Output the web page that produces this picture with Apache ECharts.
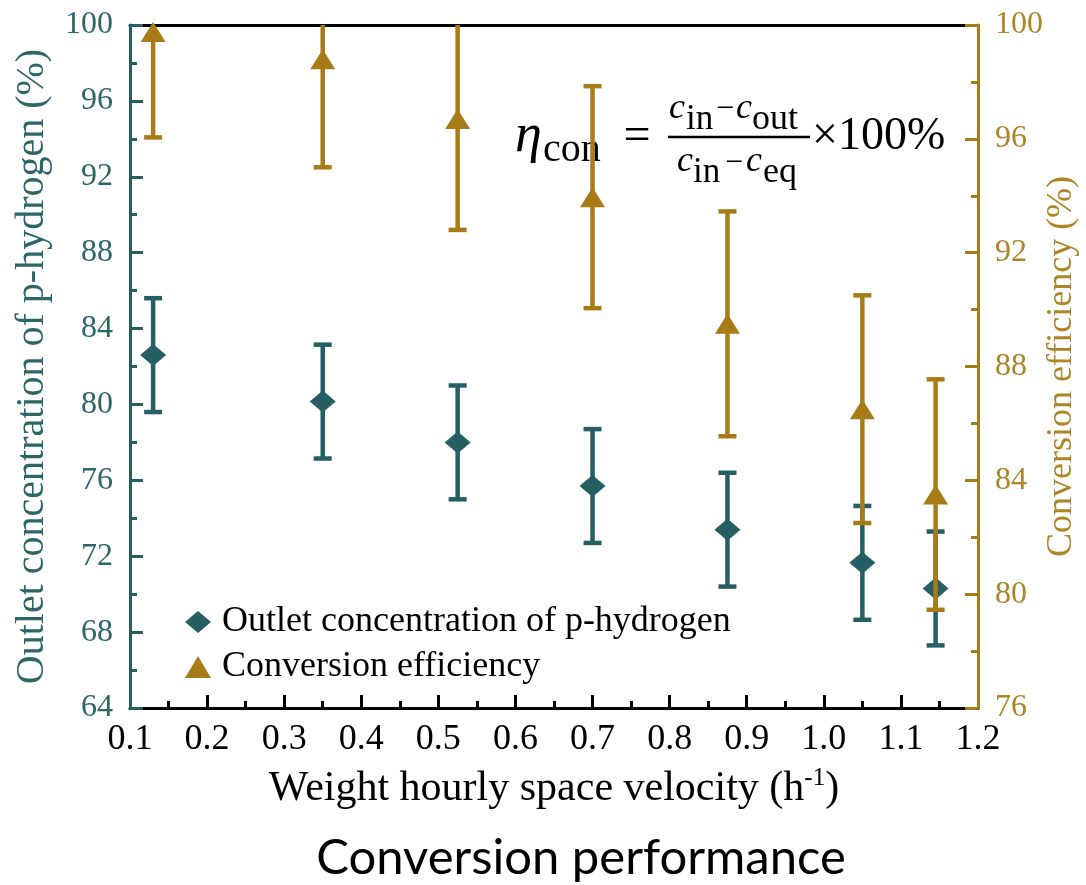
<!DOCTYPE html>
<html><head><meta charset="utf-8">
<script src="https://cdn.jsdelivr.net/npm/echarts@6/dist/echarts.min.js"></script>
<style>html,body{margin:0;padding:0;background:#fff}#chart{width:1086px;height:885px}</style>
</head><body><div id="chart"></div>
<script>
// ---- data ----
const wgsv = [0.13, 0.35, 0.525, 0.70, 0.875, 1.05, 1.145];
const outlet = [82.6, 80.15, 78.0, 75.7, 73.4, 71.65, 70.3];
const outletErr = [3.0, 3.0, 3.0, 3.0, 3.0, 3.0, 3.0];
const efficiency = [99.75, 98.8, 96.7, 93.95, 89.5, 86.5, 83.5];
const efficiencyErr = [3.7, 3.8, 3.9, 3.9, 3.95, 4.0, 4.05];
const xTicks = [0.1, 0.2, 0.3, 0.4, 0.5, 0.6, 0.7, 0.8, 0.9, 1.0, 1.1, 1.2];
const leftTicks = [64, 68, 72, 76, 80, 84, 88, 92, 96, 100];
const rightTicks = [76, 80, 84, 88, 92, 96, 100];
const seriesNames = ['Outlet concentration of p-hydrogen', 'Conversion efficiency'];

const TEAL = '#255F63', GOLD = '#A77B18';
const TEAL_T = '#2D6669', GOLD_T = '#AE8526';
const SERIF = '"Liberation Serif", "Times New Roman", serif';

const chart = echarts.init(document.getElementById('chart'), null, {renderer: 'canvas'});

function errorBarRender(color) {
  return function (params, api) {
    const x = api.value(0), lo = api.value(1), hi = api.value(2);
    const p1 = api.coord([x, hi]), p2 = api.coord([x, lo]);
    const cs = params.coordSys;
    const w = 4.5, cap = 18;
    const rects = [
      {x: p1[0] - w / 2, y: p1[1], width: w, height: p2[1] - p1[1]},
      {x: p1[0] - cap / 2, y: p1[1] - w / 2, width: cap, height: w},
      {x: p2[0] - cap / 2, y: p2[1] - w / 2, width: cap, height: w}
    ];
    const children = [];
    rects.forEach(r => {
      const c = echarts.graphic.clipRectByRect(r, {x: cs.x, y: cs.y, width: cs.width, height: cs.height});
      if (c && c.width > 0 && c.height > 0) children.push({type: 'rect', shape: c, style: {fill: color}});
    });
    return {type: 'group', children};
  };
}

const outletBars = wgsv.map((x, i) => [x, outlet[i] - outletErr[i], outlet[i] + outletErr[i]]);
const effBars = wgsv.map((x, i) => [x, efficiency[i] - efficiencyErr[i], efficiency[i] + efficiencyErr[i]]);

function txt(text, x, y, font, align, extra) {
  return Object.assign({type: 'text', x, y, silent: true,
    style: {text, font, fill: '#000', align: align || 'left', verticalAlign: 'middle'}}, extra || {});
}

const option = {
  animation: false,
  backgroundColor: '#fff',
  grid: {left: 130, right: 108, top: 25, bottom: 177, containLabel: false, outerBoundsMode: 'none'},
  legend: {
    data: seriesNames,
    orient: 'vertical', left: 180, top: 599,
    itemWidth: 26, itemHeight: 22, itemGap: 9,
    selectedMode: false,
    textStyle: {fontFamily: SERIF, fontSize: 36, color: '#000', lineHeight: 36, padding: [0, 0, 0, 6]}
  },
  xAxis: [{
    type: 'value', min: xTicks[0], max: xTicks[xTicks.length - 1], interval: 0.1,
    position: 'bottom', z: 0,
    axisLine: {show: true, onZero: false, lineStyle: {color: '#000', width: 3}},
    axisTick: {show: true, inside: true, length: 13, lineStyle: {color: '#000', width: 3}},
    minorTick: {show: true, splitNumber: 2, length: 7, lineStyle: {color: '#000', width: 3}},
    splitLine: {show: false},
    axisLabel: {color: '#000', fontFamily: SERIF, fontSize: 36, margin: 14,
      formatter: v => v.toFixed(1)},
    name: '{a|Weight hourly space velocity (h}{b|-1}{a|)}',
    nameLocation: 'middle', nameGap: 58,
    nameTextStyle: {rich: {
      a: {fontFamily: SERIF, fontSize: 42, color: '#000', lineHeight: 46},
      b: {fontFamily: SERIF, fontSize: 25, color: '#000', verticalAlign: 'top', lineHeight: 25}
    }}
  }, {
    type: 'value', min: xTicks[0], max: xTicks[xTicks.length - 1], interval: 0.1,
    position: 'top', z: 0,
    axisLine: {show: true, onZero: false, lineStyle: {color: '#000', width: 3}},
    axisTick: {show: false}, axisLabel: {show: false}, splitLine: {show: false}
  }],
  yAxis: [{
    type: 'value', min: leftTicks[0], max: leftTicks[leftTicks.length - 1], interval: 4,
    position: 'left', z: 1,
    axisLine: {show: true, onZero: false, lineStyle: {color: TEAL, width: 3}},
    axisTick: {show: true, inside: true, length: 13, lineStyle: {color: TEAL, width: 3}},
    minorTick: {show: true, splitNumber: 2, length: 7, lineStyle: {color: TEAL, width: 3}},
    splitLine: {show: false},
    axisLabel: {color: TEAL_T, fontFamily: SERIF, fontSize: 32, margin: 17},
    name: 'Outlet concentration of p-hydrogen (%)',
    nameLocation: 'middle', nameGap: 78, nameRotate: 90,
    nameTextStyle: {color: TEAL_T, fontFamily: SERIF, fontSize: 40}
  }, {
    type: 'value', min: rightTicks[0], max: rightTicks[rightTicks.length - 1], interval: 4,
    position: 'right', z: 1,
    axisLine: {show: true, onZero: false, lineStyle: {color: GOLD, width: 3}},
    axisTick: {show: true, inside: true, length: 13, lineStyle: {color: GOLD, width: 3}},
    minorTick: {show: true, splitNumber: 2, length: 7, lineStyle: {color: GOLD, width: 3}},
    splitLine: {show: false},
    axisLabel: {color: GOLD_T, fontFamily: SERIF, fontSize: 32, margin: 17},
    name: 'Conversion efficiency (%)',
    nameLocation: 'middle', nameGap: 66, nameRotate: 90, nameMoveOverlap: false,
    nameTextStyle: {color: GOLD_T, fontFamily: SERIF, fontSize: 36}
  }],
  series: [{
    type: 'custom', name: 'outletErr', xAxisIndex: 0, yAxisIndex: 0,
    renderItem: errorBarRender(TEAL), data: outletBars, encode: {x: 0, y: [1, 2]},
    silent: true, z: 2
  }, {
    type: 'scatter', name: seriesNames[0], xAxisIndex: 0, yAxisIndex: 0,
    symbol: 'diamond', symbolSize: [26, 22], itemStyle: {color: TEAL, opacity: 1},
    data: wgsv.map((x, i) => [x, outlet[i]]), z: 3
  }, {
    type: 'custom', name: 'effErr', xAxisIndex: 0, yAxisIndex: 1,
    renderItem: errorBarRender(GOLD), data: effBars, encode: {x: 0, y: [1, 2]},
    silent: true, z: 4
  }, {
    type: 'scatter', name: seriesNames[1], xAxisIndex: 0, yAxisIndex: 1,
    symbol: 'triangle', symbolSize: [25, 20], itemStyle: {color: GOLD, opacity: 1},
    data: wgsv.map((x, i) => [x, efficiency[i]]), z: 5
  }],
  graphic: [
    // formula
    txt('η', 515, 137, 'italic 54px ' + SERIF),
    txt('con', 543, 150, '40px ' + SERIF),
    txt('=', 637, 137, '48px ' + SERIF, 'center'),
    txt('c', 669, 109, 'italic 36px ' + SERIF),
    txt('in', 686, 120, '35px ' + SERIF),
    txt('−', 716, 110, '32px ' + SERIF),
    txt('c', 736, 109, 'italic 36px ' + SERIF),
    txt('out', 752, 120, '36px ' + SERIF),
    {type: 'line', silent: true, shape: {x1: 668, y1: 137, x2: 810, y2: 137}, style: {stroke: '#000', lineWidth: 2.5}},
    txt('c', 677, 162, 'italic 36px ' + SERIF),
    txt('in', 693, 173, '35px ' + SERIF),
    txt('−', 725, 164, '32px ' + SERIF),
    txt('c', 746, 162, 'italic 36px ' + SERIF),
    txt('eq', 763, 173, '36px ' + SERIF),
    txt('×100%', 812, 137, '46px ' + SERIF),
    // caption
    txt('Conversion performance', 581, 858, '49px Lato, "Open Sans", sans-serif', 'center')
  ]
};
chart.setOption(option);
</script>
</body></html>
